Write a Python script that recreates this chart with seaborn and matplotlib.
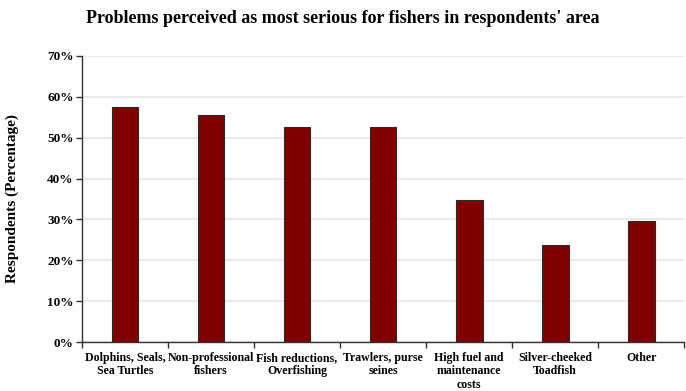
import pandas as pd
import matplotlib.pyplot as plt
import seaborn as sns
from matplotlib.ticker import PercentFormatter

# Data
categories = [
    'Dolphins, Seals,\nSea Turtles', 'Non-professional\nfishers',
    'Fish reductions,\nOverfishing', 'Trawlers, purse\nseines',
    'High fuel and\nmaintenance\ncosts', 'Silver-cheeked\nToadfish', 'Other'
]
values = [57.4, 55.5, 52.5, 52.5, 34.7, 23.8, 29.7]

df = pd.DataFrame({'Problem': categories, 'Respondents': values})

sns.set_theme(style="whitegrid")
plt.rcParams['font.family'] = ['Liberation Serif', 'DejaVu Serif']
plt.rcParams['font.weight'] = 'bold'
plt.rcParams['text.color'] = 'black'
plt.rcParams['axes.labelcolor'] = 'black'

fig = plt.figure(figsize=(6.86, 3.91), dpi=100)
ax = fig.add_axes([0.1195, 0.125, 0.878, 0.732])

sns.barplot(x='Problem', y='Respondents', data=df, color='#800000',
            saturation=1, width=0.31, edgecolor='#2a2a2a', linewidth=0.8, ax=ax)

ax.set_ylim(0, 70)
ax.set_yticks(range(0, 71, 10))
ax.yaxis.set_major_formatter(PercentFormatter(decimals=0))
ax.set_xlim(-0.5, 6.5)

ax.grid(axis='y', color='#e6e6e6', linewidth=1.2)
ax.grid(axis='x', visible=False)
ax.set_axisbelow(True)

for side in ['top', 'right']:
    ax.spines[side].set_visible(False)
for side in ['left', 'bottom']:
    ax.spines[side].set_visible(True)
    ax.spines[side].set_color('#333333')
    ax.spines[side].set_linewidth(1.0)

# tick marks: outward on y, boundaries on x
ax.tick_params(axis='y', left=True, length=4, width=1, color='#333333',
               labelsize=9.5, pad=2)
ax.set_xticks([i + 0.5 for i in range(-1, 7)], minor=True)
ax.tick_params(axis='x', which='minor', bottom=True, length=4, width=1, color='#333333')
ax.tick_params(axis='x', which='major', bottom=False, labelsize=8.6, pad=1)
for lbl in ax.get_xticklabels():
    lbl.set_linespacing(1.15)
for lbl in ax.get_xticklabels() + ax.get_yticklabels():
    lbl.set_fontweight('bold')
    lbl.set_color('black')

ax.set_xlabel('')
ax.set_ylabel('Respondents (Percentage)', fontsize=11, fontweight='bold', labelpad=20)
fig.suptitle("Problems perceived as most serious for fishers in respondents' area",
             x=0.5, y=0.975, fontsize=13, fontweight='bold')

fig.savefig('out.png', dpi=100)
